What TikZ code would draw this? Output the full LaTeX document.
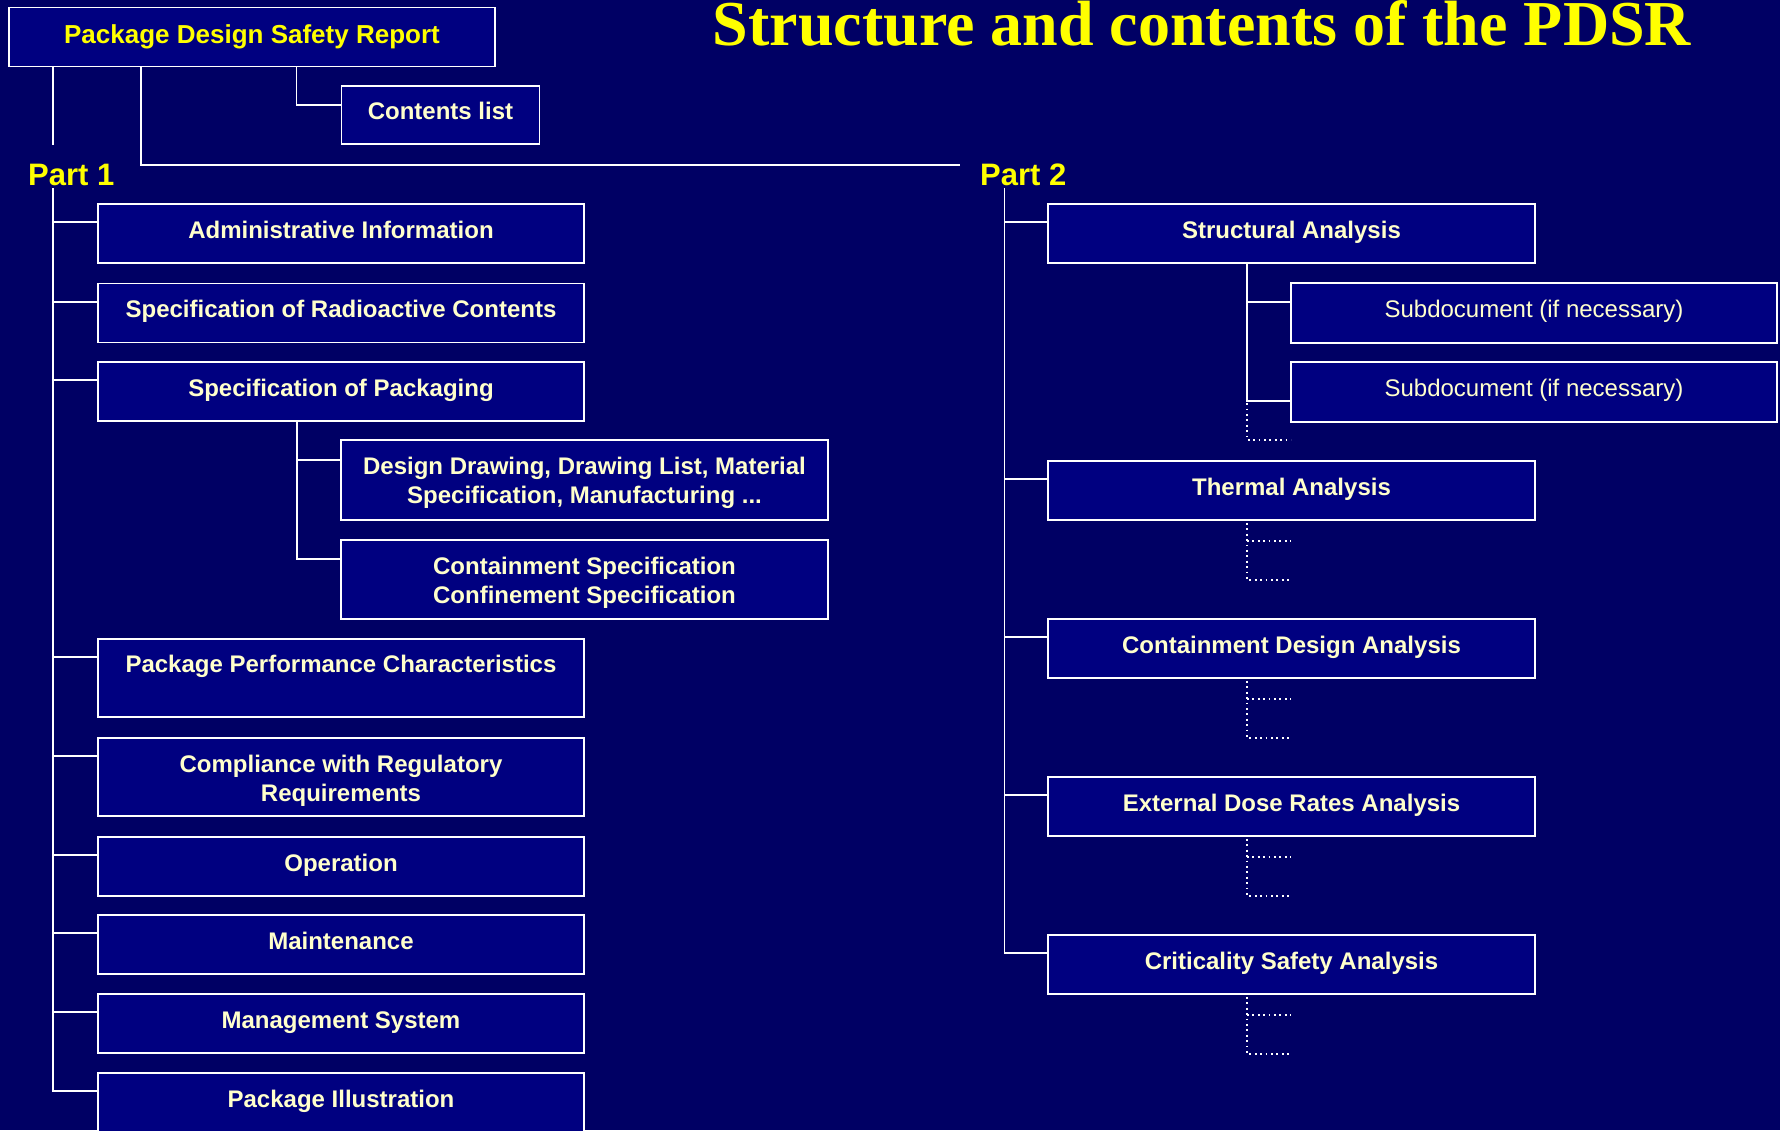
\documentclass[tikz,border=0pt]{standalone}
\usepackage{fontspec}
\setmainfont{Liberation Sans}
\newfontfamily\titlefont{Liberation Serif}
\usetikzlibrary{calc}
\definecolor{bgblue}{RGB}{0,0,100}
\definecolor{boxblue}{RGB}{0,0,128}
\definecolor{cream}{RGB}{255,255,204}
\definecolor{yel}{RGB}{255,255,0}
\newcommand\firstlinestrut{\rule{0pt}{24pt}}
\tikzset{
  box/.style={draw=white, line width=1.8pt, fill=boxblue, text=cream,
    font=\bfseries\fontsize{24}{29}\selectfont, align=center, inner sep=0pt,
    minimum width=486pt, minimum height=59pt},
  onebox/.style={box, text height=17.5pt, text depth=8.5pt},
  subbox/.style={onebox, font=\fontsize{24}{29}\selectfont, minimum height=60pt},
  conn/.style={draw=white, line width=1.8pt},
  dots/.style={draw=white, line width=1.8pt, dash pattern=on 1.8pt off 3.6pt},
  part/.style={text=yel, font=\bfseries\fontsize{31}{36}\selectfont, inner sep=0pt, anchor=base west},
}
\begin{document}
\begin{tikzpicture}[x=1pt,y=-1pt]
\path[use as bounding box, fill=bgblue] (0,0) rectangle (1780,1130);

% title
\node[text=yel, font=\titlefont\bfseries\fontsize{64}{70}\selectfont, anchor=base, inner sep=0pt]
  (title) at (1202,45) {Structure and contents of the PDSR};

% top
\node[box, text=yel, font=\bfseries\fontsize{26}{31}\selectfont] (pdsr) at (252,37) {Package Design Safety Report};
\node[onebox, minimum width=198pt, minimum height=58pt] (cont) at (440.5,115) {Contents list};

\node[part] (p1) at (28,185) {Part 1};
\node[part] (p2) at (980,185) {Part 2};

% left boxes
\node[onebox] (admin) at (341,233.5) {Administrative Information};
\node[onebox] (srad)  at (341,313)   {Specification of Radioactive Contents};
\node[onebox] (spack) at (341,391.5) {Specification of Packaging};
\node[box, minimum width=487pt, minimum height=80pt] (design)  at (584.5,480)   {\firstlinestrut Design Drawing, Drawing List, Material\\Specification, Manufacturing ...};
\node[box, minimum width=487pt, minimum height=79pt] (contain) at (584.5,579.5) {\firstlinestrut Containment Specification\\Confinement Specification};
\node[box, minimum height=78pt] (perf)  at (341,678)    {\rule{0pt}{27.4pt}Package Performance Characteristics\\\strut};
\node[box, minimum height=78pt] (compl) at (341,777)    {\firstlinestrut Compliance with Regulatory\\Requirements};
\node[onebox] (oper)  at (341,866.5)  {Operation};
\node[onebox] (maint) at (341,944.5)  {Maintenance};
\node[onebox] (mgmt)  at (341,1023.5) {Management System};
\node[onebox] (illus) at (341,1102.5) {Package Illustration};

% right boxes
\node[onebox, minimum width=487pt] (struct) at (1291.5,233.5) {Structural Analysis};
\node[subbox] (sub1) at (1534,313) {Subdocument (if necessary)};
\node[subbox] (sub2) at (1534,392) {Subdocument (if necessary)};
\node[onebox, minimum width=487pt] (therm) at (1291.5,490.5) {Thermal Analysis};
\node[onebox, minimum width=487pt] (cda)   at (1291.5,648.5) {Containment Design Analysis};
\node[onebox, minimum width=487pt] (edr)   at (1291.5,806.5) {External Dose Rates Analysis};
\node[onebox, minimum width=487pt] (csa)   at (1291.5,964.5) {Criticality Safety Analysis};

% connectors from the report box
\coordinate (t1a) at (53,145);
\coordinate (t1b) at (53,188);
\coordinate (c2a) at (141,165);
\coordinate (c2b) at (960,165);
\coordinate (cl)  at (296.5,0);
\draw[conn] (pdsr.south -| t1a) -- (t1a);
\draw[conn] (pdsr.south -| c2a) -- (c2a) -- (c2b);
\draw[conn] (pdsr.south -| cl) |- ([yshift=-20pt]cont.north west);

% part 1 tree
\foreach \n in {admin,srad,spack,perf,compl,oper,maint,mgmt,illus}{
  \path ([yshift=-19pt]\n.north west) coordinate (\n-b);
  \draw[conn] (\n-b) -- (\n-b -| t1b);
}
\draw[conn] (t1b) |- (illus-b);

\coordinate (sx) at (297,0);
\draw[conn] (spack.south -| sx) |- ([yshift=-21pt]design.north west);
\draw[conn] (spack.south -| sx) |- ([yshift=-20pt]contain.north west);

% part 2 tree
\coordinate (t2b) at (1004.5,188);
\foreach \n in {struct,therm,cda,edr,csa}{
  \path ([yshift=-19pt]\n.north west) coordinate (\n-b);
  \draw[conn] (\n-b) -- (\n-b -| t2b);
}
\draw[conn] (t2b) |- (csa-b);

\coordinate (sx2) at (1247,0);
\draw[conn] (struct.south -| sx2) |- ([yshift=-20pt]sub1.north west);
\draw[conn] (struct.south -| sx2) |- ([yshift=-40pt]sub2.north west);
\path ([yshift=-40pt]sub2.north west) coordinate (s2b);
\draw[dots] ($(s2b -| sx2)+(0,2)$) -- ++(0,37) -- ++(44,0);

\foreach \n in {therm,cda,edr,csa}{
  \draw[dots] ($(\n.south -| sx2)+(0,2)$) -- ++(0,57) -- ++(44,0);
  \draw[dots] ($(\n.south -| sx2)+(0,20)$) -- ++(44,0);
}
\end{tikzpicture}
\end{document}
